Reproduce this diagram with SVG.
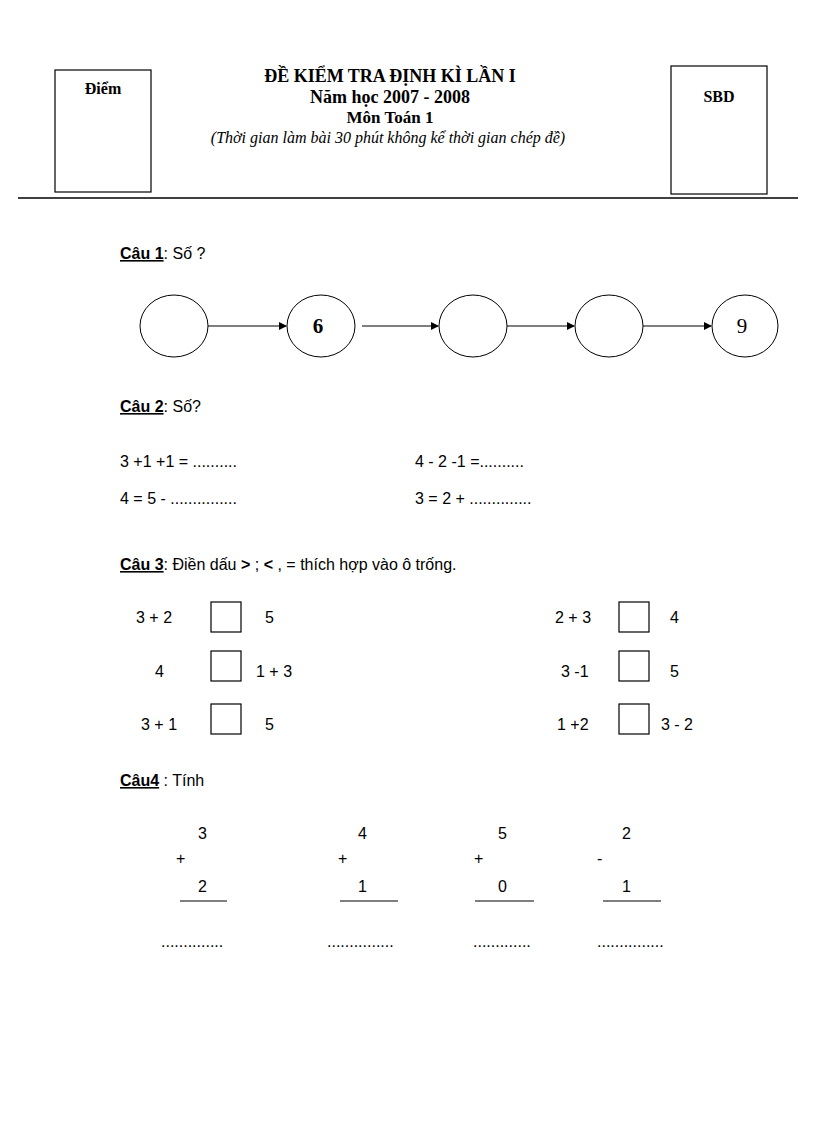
<svg xmlns="http://www.w3.org/2000/svg" width="816" height="1123" viewBox="0 0 816 1123" xml:space="preserve">
<style>
.t{font-family:"Liberation Serif",serif;font-weight:bold;fill:#000}
.s{font-family:"Liberation Sans",sans-serif;font-size:16px;fill:#000}
.u{text-decoration:underline;font-weight:bold}
.box{fill:#fff;stroke:#000;stroke-width:1.2}
.c{fill:#fff;stroke:#000;stroke-width:1}
.ln{stroke:#000;stroke-width:1.2}
</style>
<defs><marker id="a" markerWidth="8" markerHeight="8" refX="7" refY="4" orient="auto" markerUnits="userSpaceOnUse"><path d="M0,0 L8,4 L0,8 z" fill="#000"/></marker></defs>
<rect width="816" height="1123" fill="#fff"/>
<g id="header">
<rect class="box" x="55" y="70" width="96" height="122"/>
<text class="t" x="103" y="94" font-size="16" text-anchor="middle">Điểm</text>
<rect class="box" x="671" y="66" width="96" height="128"/>
<text class="t" x="719" y="102" font-size="16" text-anchor="middle">SBD</text>
<text class="t" x="390" y="82" font-size="18" text-anchor="middle">ĐỀ KIỂM TRA ĐỊNH KÌ LẦN I</text>
<text class="t" x="390" y="103" font-size="18" text-anchor="middle">Năm học 2007 - 2008</text>
<text class="t" x="390" y="123" font-size="17" text-anchor="middle">Môn Toán 1</text>
<text x="388" y="143" font-family="Liberation Serif,serif" font-style="italic" font-size="16" text-anchor="middle">(Thời gian làm bài 30 phút không kể thời gian chép đề)</text>
<line x1="18" y1="198" x2="798" y2="198" stroke="#000" stroke-width="1.5"/>
</g>
<text class="s" x="120" y="259"><tspan class="u">Câu 1</tspan>:  Số ?</text>
<g id="nodes">
<g id="n1"><ellipse class="c" cx="174" cy="326" rx="34" ry="31"/></g>
<g id="n2"><ellipse class="c" cx="321" cy="326" rx="34" ry="31"/><text class="t" x="318" y="333" font-size="21" text-anchor="middle">6</text></g>
<g id="n3"><ellipse class="c" cx="473" cy="326" rx="34" ry="31"/></g>
<g id="n4"><ellipse class="c" cx="609" cy="326" rx="34" ry="31"/></g>
<g id="n5"><ellipse class="c" cx="745" cy="326" rx="33" ry="31"/><text x="742" y="333" font-family="Liberation Serif,serif" font-size="21" text-anchor="middle">9</text></g>
</g>
<g id="connectors" class="ln">
<line x1="208" y1="326" x2="286" y2="326" marker-end="url(#a)"/>
<line x1="362" y1="326" x2="438" y2="326" marker-end="url(#a)"/>
<line x1="507" y1="326" x2="574" y2="326" marker-end="url(#a)"/>
<line x1="643" y1="326" x2="711" y2="326" marker-end="url(#a)"/>
</g>
<text class="s" x="120" y="412"><tspan class="u">Câu 2</tspan>:  Số?</text>
<text class="s" x="120" y="467">3 +1 +1 = ..........</text>
<text class="s" x="415" y="467">4 - 2 -1  =..........</text>
<text class="s" x="120" y="504">4 = 5 - ...............</text>
<text class="s" x="415" y="504">3 =  2 + ..............</text>
<text class="s" x="120" y="570"><tspan class="u">Câu 3</tspan>:  Điền dấu <tspan font-weight="bold">&gt;</tspan>  ;  <tspan font-weight="bold">&lt;</tspan> ,  =  thích hợp vào ô trống.</text>
<g id="q3">
<rect class="box" x="211" y="602" width="30" height="30"/>
<rect class="box" x="211" y="651" width="30" height="30"/>
<rect class="box" x="211" y="704" width="30" height="30"/>
<rect class="box" x="619" y="602" width="30" height="30"/>
<rect class="box" x="619" y="651" width="30" height="30"/>
<rect class="box" x="619" y="704" width="30" height="30"/>
<text class="s" x="136" y="623">3 + 2</text><text class="s" x="265" y="623">5</text>
<text class="s" x="155" y="677">4</text><text class="s" x="256" y="677">1 + 3</text>
<text class="s" x="141" y="730">3 + 1</text><text class="s" x="265" y="730">5</text>
<text class="s" x="555" y="623">2 + 3</text><text class="s" x="670" y="623">4</text>
<text class="s" x="561" y="677">3  -1</text><text class="s" x="670" y="677">5</text>
<text class="s" x="557" y="730">1 +2</text><text class="s" x="661" y="730">3 - 2</text>
</g>
<text class="s" x="120" y="786"><tspan class="u"> Câu4</tspan> : Tính</text>
<g id="q4" class="s">
<text x="198" y="839">3</text><text x="176" y="864">+</text><text x="198" y="892">2</text>
<text x="358" y="839">4</text><text x="338" y="864">+</text><text x="358" y="892">1</text>
<text x="498" y="839">5</text><text x="474" y="864">+</text><text x="498" y="892">0</text>
<text x="622" y="839">2</text><text x="597" y="864">-</text><text x="622" y="892">1</text>
<text x="161" y="947">..............</text>
<text x="327" y="947">...............</text>
<text x="473" y="947">.............</text>
<text x="597" y="947">...............</text>
</g>
<g class="ln" stroke-width="1">
<line x1="180" y1="901" x2="227" y2="901"/>
<line x1="340" y1="901" x2="398" y2="901"/>
<line x1="475" y1="901" x2="534" y2="901"/>
<line x1="603" y1="901" x2="661" y2="901"/>
</g>
</svg>
